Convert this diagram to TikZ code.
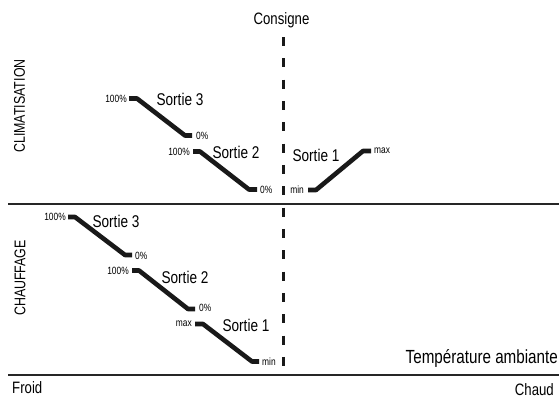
\documentclass[tikz,border=0pt]{standalone}
\usepackage{fontspec}
\setmainfont{Liberation Sans}[FakeStretch=0.8]
\begin{document}
\begin{tikzpicture}[x=1pt,y=-1pt,
  outline/.style={line width=4.6pt,line join=bevel,line cap=butt,color=black!90},
  axis/.style={line width=2.4pt,color=black!85},
  consline/.style={line width=3pt,dash pattern=on 9pt off 12.33pt,color=black!90},
  big/.style={font=\fontsize{17}{17}\selectfont,inner sep=0pt},
  side/.style={font=\fontsize{15.5}{15.5}\selectfont,inner sep=0pt},
  mid/.style={font=\fontsize{16.5}{16.5}\selectfont,inner sep=0pt},
  temp/.style={font=\fontsize{19}{19}\selectfont,inner sep=0pt},
  small/.style={font=\fontsize{10.5}{10.5}\selectfont,inner sep=0pt}]
\useasboundingbox (0,0) rectangle (559,400);
% axes
\coordinate (h1a) at (8,204); \coordinate (h1b) at (559,204);
\coordinate (h2a) at (8,375); \coordinate (h2b) at (559,375);
\draw[axis] (h1a) -- (h1b);
\draw[axis] (h2a) -- (h2b);
% consigne
\node[mid] (cons) at (281.5,20) {Consigne};
\coordinate (c1) at (283.5,37); \coordinate (c2) at (283.5,366);
\draw[consline] (c1) -- (c2);
% side labels
\node[side,rotate=90] (clim) at (19.5,106) {CLIMATISATION};
\node[side,rotate=90] (chauf) at (20,278) {CHAUFFAGE};
\node[mid,anchor=west] (froid) at (12,388) {Froid};
\node[mid,anchor=east] (chaud) at (554,390) {Chaud};
\node[temp,anchor=east] (temp) at (558,358) {Température ambiante};
% Climatisation Sortie 3
\coordinate (a1) at (129,98.5); \coordinate (a2) at (137,98.5);
\coordinate (a3) at (185,135.5); \coordinate (a4) at (192,135.5);
\draw[outline] (a1) -- (a2) -- (a3) -- (a4);
\node[small,anchor=east] (a100) at (127,98.5) {100\%};
\node[small,anchor=west] (a0) at (196,136) {0\%};
\node[big] (as) at (180,99) {Sortie 3};
% Climatisation Sortie 2
\coordinate (b1) at (193,151.5); \coordinate (b2) at (200,151.5);
\coordinate (b3) at (249,189.5); \coordinate (b4) at (257,189.5);
\draw[outline] (b1) -- (b2) -- (b3) -- (b4);
\node[small,anchor=east] (b100) at (190,152) {100\%};
\node[small,anchor=west] (b0) at (260,189.5) {0\%};
\node[big] (bs) at (236,152) {Sortie 2};
% Climatisation Sortie 1
\coordinate (d1) at (308,190); \coordinate (d2) at (316,190);
\coordinate (d3) at (363,151); \coordinate (d4) at (371,151);
\draw[outline] (d1) -- (d2) -- (d3) -- (d4);
\node[small,anchor=east] (dmin) at (304,190) {min};
\node[small,anchor=west] (dmax) at (374,151) {max};
\node[big] (ds) at (316,155) {Sortie 1};
% Chauffage Sortie 3
\coordinate (e1) at (68,217); \coordinate (e2) at (75,217);
\coordinate (e3) at (125,255); \coordinate (e4) at (132,255);
\draw[outline] (e1) -- (e2) -- (e3) -- (e4);
\node[small,anchor=east] (e100) at (66,217) {100\%};
\node[small,anchor=west] (e0) at (135,256) {0\%};
\node[big] (es) at (116,221) {Sortie 3};
% Chauffage Sortie 2
\coordinate (f1) at (132,270.5); \coordinate (f2) at (139,270.5);
\coordinate (f3) at (188,309); \coordinate (f4) at (195,309);
\draw[outline] (f1) -- (f2) -- (f3) -- (f4);
\node[small,anchor=east] (f100) at (129,271) {100\%};
\node[small,anchor=west] (f0) at (199,308) {0\%};
\node[big] (fs) at (185,277) {Sortie 2};
% Chauffage Sortie 1
\coordinate (g1) at (195,324); \coordinate (g2) at (203,324);
\coordinate (g3) at (252,361.5); \coordinate (g4) at (259,361.5);
\draw[outline] (g1) -- (g2) -- (g3) -- (g4);
\node[small,anchor=east] (gmax) at (192,324) {max};
\node[small,anchor=west] (gmin) at (262,362) {min};
\node[big] (gs) at (246,325) {Sortie 1};
\end{tikzpicture}
\end{document}
